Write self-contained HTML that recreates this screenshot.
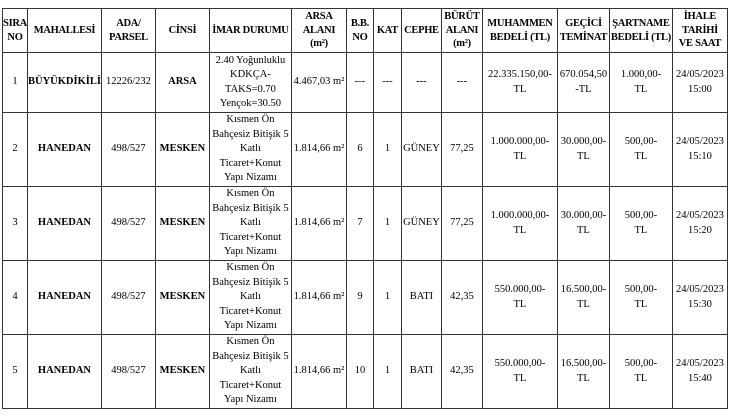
<!DOCTYPE html>
<html><head><meta charset="utf-8"><style>
body{margin:0;background:#fff;width:730px;height:420px;overflow:hidden}
table{position:absolute;left:2px;top:8px;border-collapse:collapse;table-layout:fixed;font-family:"Liberation Serif",serif;font-size:10.5px;line-height:14.5px;color:#000}
td{border:1.3px solid #333;text-align:center;vertical-align:middle;padding:0;overflow:hidden;white-space:nowrap}
.h td{font-weight:bold;height:43px;line-height:13.5px;letter-spacing:-0.3px}
.b{font-weight:bold}
tr.r1 td{height:59px}
tr.r td{height:73px}
</style></head><body>
<table>
<colgroup><col style="width:25px"><col style="width:73px"><col style="width:54px"><col style="width:54px"><col style="width:82px"><col style="width:55px"><col style="width:27px"><col style="width:28px"><col style="width:40px"><col style="width:41px"><col style="width:75px"><col style="width:52px"><col style="width:63px"><col style="width:55px"></colgroup>
<tr class="h"><td>SIRA<br>NO</td><td>MAHALLESİ</td><td>ADA/<br>PARSEL</td><td>CİNSİ</td><td>İMAR DURUMU</td><td>ARSA<br>ALANI<br>(m²)</td><td>B.B.<br>NO</td><td>KAT</td><td>CEPHE</td><td>BÜRÜT<br>ALANI<br>(m²)</td><td>MUHAMMEN<br>BEDELİ (TL)</td><td>GEÇİCİ<br>TEMİNAT</td><td>ŞARTNAME<br>BEDELİ (TL)</td><td>İHALE<br>TARİHİ<br>VE SAAT</td></tr>
<tr class="r1"><td>1</td><td class="b">BÜYÜKDİKİLİ</td><td>12226/232</td><td class="b">ARSA</td><td>2.40 Yoğunluklu<br>KDKÇA-<br>TAKS=0.70<br>Yençok=30.50</td><td>4.467,03 m²</td><td>---</td><td>---</td><td>---</td><td>---</td><td>22.335.150,00-<br>TL</td><td>670.054,50<br>-TL</td><td>1.000,00-<br>TL</td><td>24/05/2023<br>15:00</td></tr>
<tr class="r"><td>2</td><td class="b">HANEDAN</td><td>498/527</td><td class="b">MESKEN</td><td>Kısmen Ön<br>Bahçesiz Bitişik 5<br>Katlı<br>Ticaret+Konut<br>Yapı Nizamı</td><td>1.814,66 m²</td><td>6</td><td>1</td><td>GÜNEY</td><td>77,25</td><td>1.000.000,00-<br>TL</td><td>30.000,00-<br>TL</td><td>500,00-<br>TL</td><td>24/05/2023<br>15:10</td></tr>
<tr class="r"><td>3</td><td class="b">HANEDAN</td><td>498/527</td><td class="b">MESKEN</td><td>Kısmen Ön<br>Bahçesiz Bitişik 5<br>Katlı<br>Ticaret+Konut<br>Yapı Nizamı</td><td>1.814,66 m²</td><td>7</td><td>1</td><td>GÜNEY</td><td>77,25</td><td>1.000.000,00-<br>TL</td><td>30.000,00-<br>TL</td><td>500,00-<br>TL</td><td>24/05/2023<br>15:20</td></tr>
<tr class="r"><td>4</td><td class="b">HANEDAN</td><td>498/527</td><td class="b">MESKEN</td><td>Kısmen Ön<br>Bahçesiz Bitişik 5<br>Katlı<br>Ticaret+Konut<br>Yapı Nizamı</td><td>1.814,66 m²</td><td>9</td><td>1</td><td>BATI</td><td>42,35</td><td>550.000,00-<br>TL</td><td>16.500,00-<br>TL</td><td>500,00-<br>TL</td><td>24/05/2023<br>15:30</td></tr>
<tr class="r"><td>5</td><td class="b">HANEDAN</td><td>498/527</td><td class="b">MESKEN</td><td>Kısmen Ön<br>Bahçesiz Bitişik 5<br>Katlı<br>Ticaret+Konut<br>Yapı Nizamı</td><td>1.814,66 m²</td><td>10</td><td>1</td><td>BATI</td><td>42,35</td><td>550.000,00-<br>TL</td><td>16.500,00-<br>TL</td><td>500,00-<br>TL</td><td>24/05/2023<br>15:40</td></tr>
</table>
</body></html>
